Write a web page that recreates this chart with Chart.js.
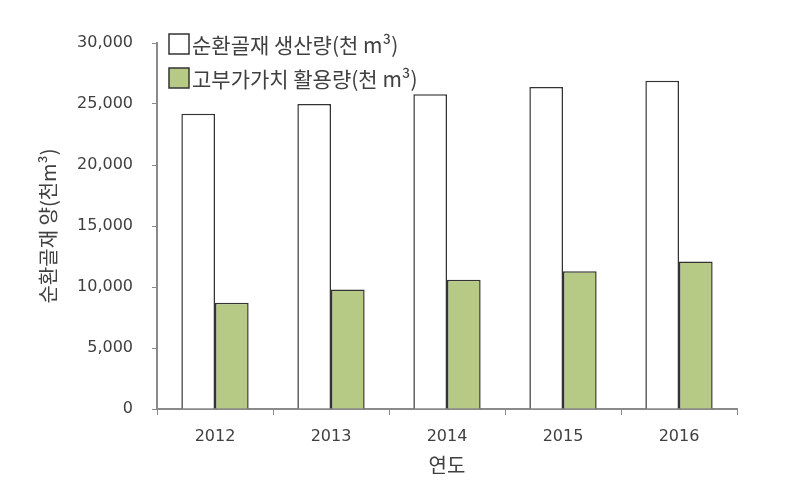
<!DOCTYPE html>
<html>
<head>
<meta charset="utf-8">
<script src="https://cdn.jsdelivr.net/npm/chart.js@4"></script>
<style>
html,body{margin:0;padding:0;background:#fff;}
#wrap{width:796px;height:484px;}
</style>
</head>
<body>
<div id="wrap"><canvas id="c" width="796" height="484"></canvas></div>
<script>
const categories = ['2012', '2013', '2014', '2015', '2016'];
const productionLabel = '순환골재 생산량(천 m³)';
const production = [24200, 25000, 25800, 26400, 26900];
const highValueLabel = '고부가가치 활용량(천 m³)';
const highValue = [8700, 9800, 10600, 11300, 12100];
const yTicks = [0, 5000, 10000, 15000, 20000, 25000, 30000];
const yTitle = '순환골재 양(천m³)';
const xTitle = '연도';

const FONT = '"Noto Sans CJK KR", "Noto Sans", sans-serif';
const NUMFONT = '"DejaVu Sans", sans-serif';
const AXIS = '#8a8a8a';
const TEXT = '#404040';

const legendPlugin = {
  id: 'insideLegend',
  afterDraw(chart) {
    const ctx = chart.ctx;
    ctx.save();
    const items = chart.data.datasets;
    const x0 = 169, y0 = 34, gap = 34, box = 20;
    items.forEach((ds, i) => {
      const y = y0 + i * gap;
      ctx.fillStyle = ds.backgroundColor;
      ctx.fillRect(x0, y, box, box);
      ctx.strokeStyle = '#333';
      ctx.lineWidth = 1.5;
      ctx.strokeRect(x0, y, box, box);
      ctx.fillStyle = TEXT;
      ctx.font = '21px ' + FONT;
      ctx.textBaseline = 'middle';
      ctx.textAlign = 'left';
      ctx.fillText(ds.label, x0 + box + 3, y + box / 2 + 1);
    });
    ctx.restore();
  }
};

new Chart(document.getElementById('c'), {
  type: 'bar',
  data: {
    labels: categories,
    datasets: [
      { label: productionLabel, data: production, backgroundColor: '#ffffff', borderColor: '#333333', borderWidth: 1.5 },
      { label: highValueLabel, data: highValue, backgroundColor: '#b6ca86', borderColor: '#333333', borderWidth: 1.5 }
    ]
  },
  options: {
    responsive: false,
    animation: false,
    devicePixelRatio: 1,
    layout: { padding: { top: 43, right: 59, left: 0, bottom: 0 } },
    plugins: { legend: { display: false }, tooltip: { enabled: false } },
    datasets: { bar: { categoryPercentage: 0.58, barPercentage: 1.0 } },
    scales: {
      x: {
        grid: { display: true, drawOnChartArea: false, drawTicks: true, tickLength: 6, color: AXIS, offset: true },
        border: { display: true, color: AXIS, width: 2 },
        ticks: { color: TEXT, font: { family: NUMFONT, size: 16 }, padding: 12 },
        title: { display: true, text: xTitle, color: TEXT, font: { family: FONT, size: 20 }, padding: { top: 0, bottom: 7 } },
        afterFit(scale) { scale.height = 75; }
      },
      y: {
        min: 0, max: 30000,
        afterBuildTicks(scale) { scale.ticks = yTicks.map(v => ({ value: v })); },
        grid: { display: true, drawOnChartArea: false, drawTicks: true, tickLength: 5, color: AXIS },
        border: { display: true, color: AXIS, width: 2 },
        ticks: { color: TEXT, font: { family: NUMFONT, size: 16 }, padding: 19,
          callback: v => v.toLocaleString('en-US') },
        title: { display: true, text: yTitle, color: TEXT, font: { family: FONT, size: 20 }, padding: { top: 36, bottom: 0 } },
        afterFit(scale) { scale.width = 157; }
      }
    }
  },
  plugins: [legendPlugin]
});
</script>
</body>
</html>
